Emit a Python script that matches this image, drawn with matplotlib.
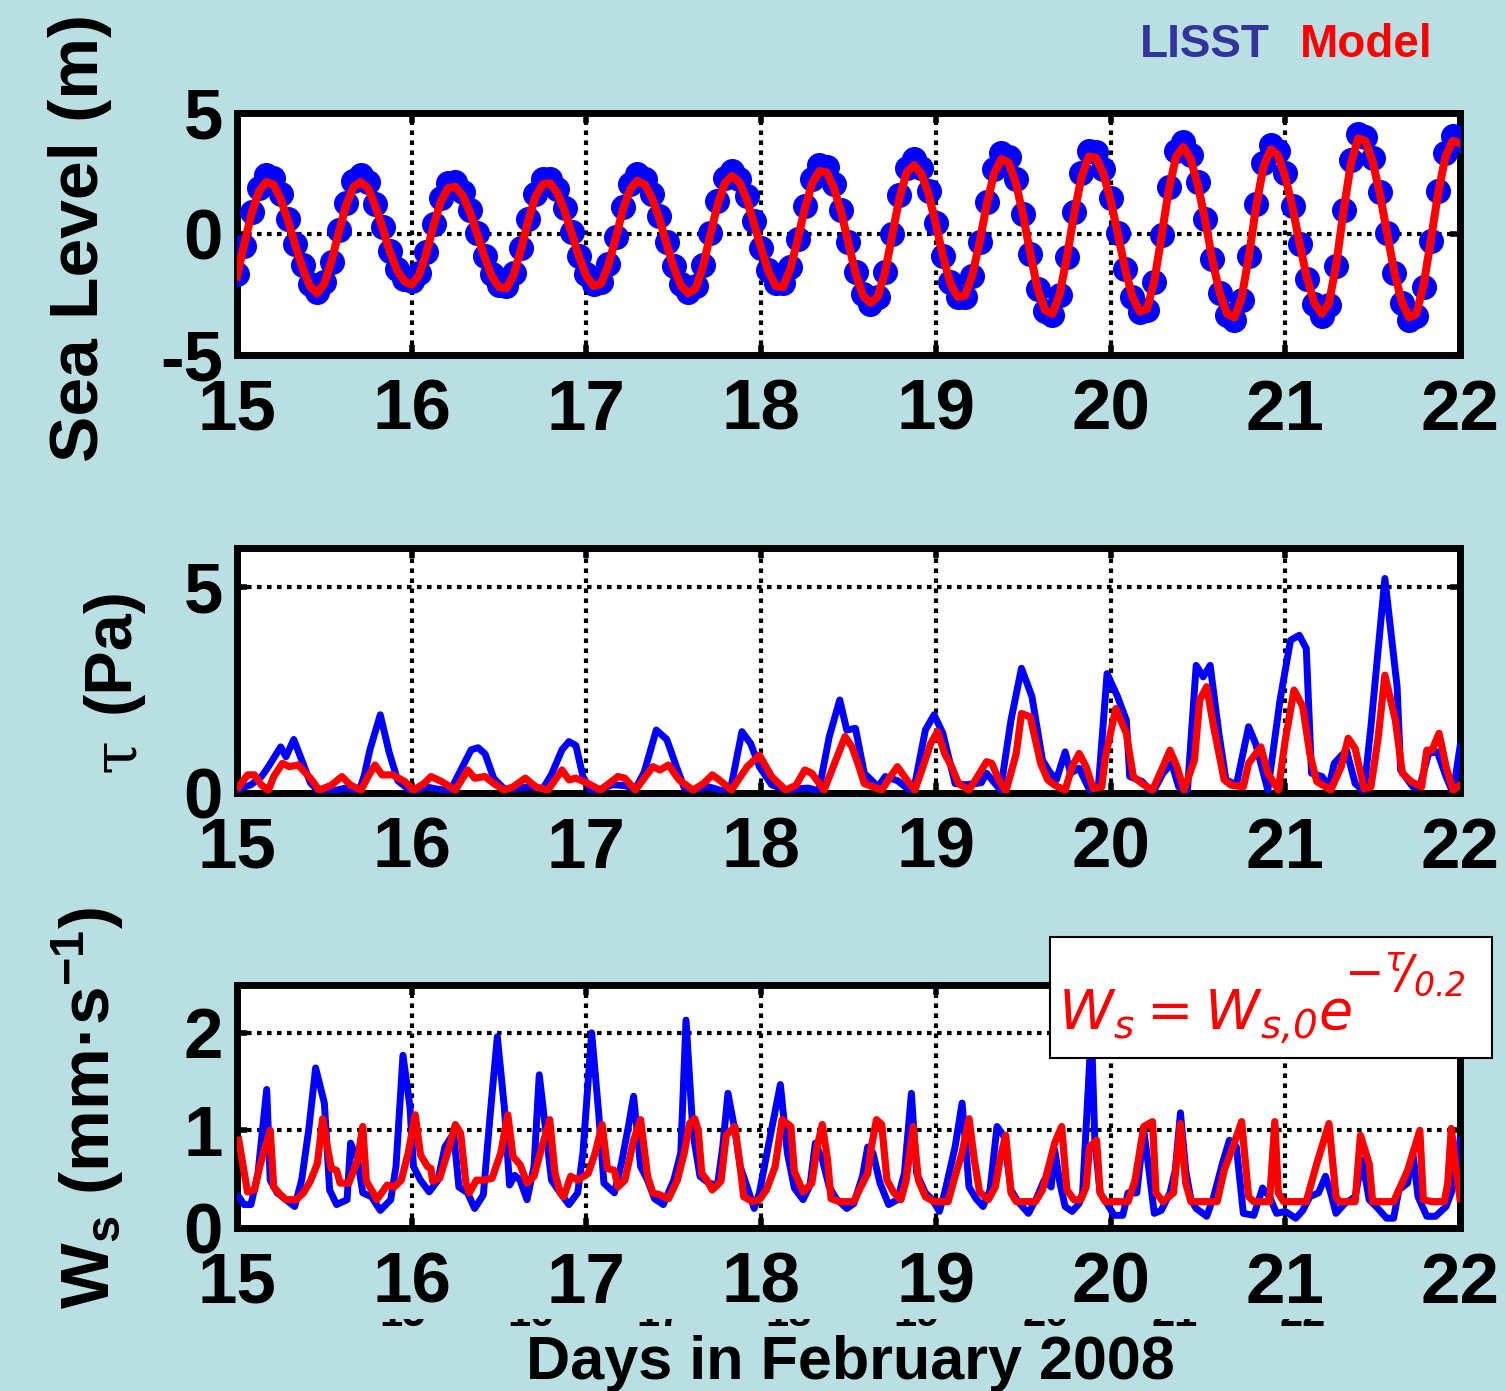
#!/usr/bin/env python3
"""LISST vs model: sea level, bed stress and settling velocity, 15-22 Feb 2008."""

import numpy as np
import matplotlib
matplotlib.use("Agg")
import matplotlib.pyplot as plt
from matplotlib.patches import Rectangle
from matplotlib.transforms import Bbox, TransformedBbox

# ---- sea level (m), hourly from 15 Feb 00:00 ----
sea_obs = [
    -1.65, -0.50, 0.90, 1.90, 2.45, 2.30, 1.65, 0.60, -0.40, -1.30, -2.05, -2.40,
    -2.00, -1.15, 0.15, 1.30, 2.20, 2.45, 2.15, 1.25, 0.30, -0.70, -1.45, -1.85,
    -1.95, -1.63, -0.74, 0.42, 1.47, 2.12, 2.15, 1.73, 0.99, 0.05, -0.90, -1.67,
    -2.12, -2.15, -1.60, -0.58, 0.61, 1.67, 2.27, 2.29, 1.85, 1.06, 0.08, -0.90,
    -1.67, -2.06, -1.98, -1.25, -0.13, 1.11, 2.07, 2.48, 2.29, 1.66, 0.74, -0.34,
    -1.33, -2.06, -2.39, -2.16, -1.28, 0.03, 1.35, 2.30, 2.60, 2.29, 1.55, 0.52,
    -0.56, -1.47, -2.01, -2.04, -1.38, -0.21, 1.15, 2.28, 2.87, 2.76, 2.06, 0.98,
    -0.33, -1.57, -2.49, -2.89, -2.62, -1.55, 0.02, 1.60, 2.73, 3.10, 2.71, 1.77,
    0.47, -0.89, -1.99, -2.61, -2.59, -1.75, -0.31, 1.33, 2.67, 3.36, 3.20, 2.28,
    0.83, -0.82, -2.28, -3.20, -3.35, -2.54, -0.97, 0.90, 2.52, 3.42, 3.38, 2.68,
    1.49, 0.03, -1.43, -2.59, -3.22, -3.14, -1.99, -0.06, 1.95, 3.41, 3.79, 3.28,
    2.14, 0.60, -1.05, -2.45, -3.36, -3.57, -2.71, -0.92, 1.22, 2.93, 3.69, 3.42,
    2.51, 1.17, -0.40, -1.84, -2.90, -3.39, -2.94, -1.31, 0.99, 3.06, 4.13, 4.01,
    3.15, 1.74, 0.04, -1.61, -2.86, -3.54, -3.39, -2.18, -0.30, 1.76, 3.36, 4.04,
    3.90,
]
sea_model = [
    -1.75, -0.40, 0.85, 1.75, 2.15, 2.05, 1.45, 0.55, -0.45, -1.40, -2.15, -2.45,
    -2.05, -1.10, 0.10, 1.20, 1.95, 2.15, 1.90, 1.15, 0.25, -0.75, -1.50, -1.95,
    -2.10, -1.70, -0.80, 0.35, 1.35, 1.90, 1.95, 1.60, 0.90, 0.00, -0.95, -1.75,
    -2.20, -2.25, -1.70, -0.65, 0.55, 1.55, 2.05, 2.10, 1.70, 0.95, 0.00, -0.95,
    -1.75, -2.15, -2.05, -1.30, -0.20, 1.00, 1.85, 2.20, 2.05, 1.50, 0.65, -0.40,
    -1.40, -2.15, -2.45, -2.25, -1.35, -0.05, 1.20, 2.10, 2.40, 2.15, 1.45, 0.45,
    -0.60, -1.55, -2.15, -2.20, -1.45, -0.25, 1.05, 2.10, 2.60, 2.55, 1.90, 0.90,
    -0.40, -1.65, -2.55, -2.85, -2.60, -1.60, -0.05, 1.50, 2.55, 2.85, 2.50, 1.65,
    0.40, -0.95, -2.05, -2.60, -2.55, -1.70, -0.35, 1.25, 2.50, 3.10, 2.95, 2.10,
    0.75, -0.85, -2.30, -3.15, -3.30, -2.50, -0.95, 0.85, 2.35, 3.20, 3.15, 2.50,
    1.40, 0.00, -1.45, -2.60, -3.20, -3.10, -1.95, -0.10, 1.85, 3.20, 3.60, 3.10,
    2.00, 0.55, -1.10, -2.45, -3.30, -3.45, -2.65, -0.90, 1.15, 2.80, 3.50, 3.25,
    2.35, 1.10, -0.45, -1.85, -2.85, -3.30, -2.85, -1.25, 0.95, 2.90, 3.95, 3.85,
    3.00, 1.65, 0.00, -1.60, -2.80, -3.45, -3.30, -2.10, -0.25, 1.70, 3.20, 3.85,
    3.75,
]
sea_days = 15 + np.arange(len(sea_obs)) / 24.0

# ---- bed shear stress tau (Pa) ----
tau_obs_day = [
    15.01, 15.08, 15.14, 15.18, 15.25, 15.28, 15.325, 15.375, 15.42, 15.47, 15.55,
    15.62, 15.70, 15.73, 15.76, 15.82, 15.87, 15.92, 16.0, 16.08, 16.14, 16.22,
    16.28, 16.34, 16.38, 16.42, 16.47, 16.53, 16.6, 16.68, 16.75, 16.8, 16.86,
    16.9, 16.94, 16.98, 17.03, 17.08, 17.15, 17.22, 17.28, 17.33, 17.40, 17.46,
    17.51, 17.56, 17.62, 17.7, 17.78, 17.83, 17.89, 17.94, 17.99, 18.06, 18.14,
    18.2, 18.27, 18.33, 18.39, 18.45, 18.49, 18.54, 18.59, 18.67, 18.71, 18.78,
    18.87, 18.94, 18.99, 19.04, 19.11, 19.17, 19.26, 19.29, 19.37, 19.43, 19.49,
    19.55, 19.61, 19.65, 19.69, 19.74, 19.77, 19.82, 19.88, 19.93, 19.98, 20.04,
    20.09, 20.11, 20.18, 20.24, 20.30, 20.35, 20.39, 20.44, 20.49, 20.53, 20.57,
    20.62, 20.66, 20.72, 20.79, 20.83, 20.9, 20.97, 21.03, 21.08, 21.12, 21.15,
    21.21, 21.25, 21.28, 21.35, 21.40, 21.45, 21.49, 21.57, 21.64, 21.66, 21.73,
    21.77, 21.82, 21.87, 21.92, 21.96, 22.0,
]
tau_obs = [
    0.10, 0.20, 0.40, 0.64, 1.12, 0.88, 1.30, 0.75, 0.25, 0.02, 0.05,
    0.12, 0.05, 0.45, 1.04, 1.90, 1.00, 0.30, 0.03, 0.15, 0.10, 0.05,
    0.55, 1.05, 1.10, 0.95, 0.35, 0.10, 0.12, 0.15, 0.10, 0.45, 1.05,
    1.25, 1.15, 0.40, 0.02, 0.10, 0.20, 0.18, 0.10, 0.50, 1.53, 1.30,
    0.70, 0.12, 0.08, 0.15, 0.05, 0.20, 1.49, 1.20, 0.64, 0.20, 0.07,
    0.10, 0.12, 0.05, 1.37, 2.26, 1.53, 1.57, 0.48, 0.15, 0.40, 0.30,
    0.00, 1.53, 1.90, 1.45, 0.23, 0.20, 0.25, 0.48, 0.07, 1.77, 3.03,
    2.34, 0.80, 0.52, 0.32, 1.00, 0.48, 0.60, 0.07, 0.15, 2.90, 2.34,
    1.77, 0.40, 0.28, 0.00, 0.48, 0.72, 0.15, 0.07, 3.10, 2.82, 3.10,
    1.45, 0.32, 0.20, 1.61, 1.20, 0.07, 2.26, 3.71, 3.83, 3.51, 0.48,
    0.40, 0.15, 0.72, 1.04, 0.23, 0.03, 1.61, 5.21, 2.58, 0.56, 0.15,
    0.15, 0.96, 1.00, 0.40, 0.00, 1.12,
]
tau_model_day = [
    15.01, 15.06, 15.10, 15.14, 15.18, 15.21, 15.26, 15.30, 15.35, 15.42, 15.47,
    15.54, 15.60, 15.65, 15.71, 15.75, 15.79, 15.83, 15.89, 15.96, 16.01, 16.07,
    16.11, 16.17, 16.25, 16.32, 16.36, 16.42, 16.47, 16.53, 16.58, 16.65, 16.71,
    16.78, 16.86, 16.90, 16.94, 17.01, 17.08, 17.18, 17.22, 17.28, 17.38, 17.42,
    17.47, 17.53, 17.61, 17.67, 17.72, 17.76, 17.83, 17.92, 17.99, 18.06, 18.14,
    18.20, 18.25, 18.29, 18.36, 18.42, 18.48, 18.52, 18.56, 18.59, 18.64, 18.69,
    18.74, 18.78, 18.84, 18.88, 18.92, 18.97, 19.01, 19.05, 19.09, 19.13, 19.19,
    19.25, 19.29, 19.32, 19.36, 19.40, 19.46, 19.49, 19.54, 19.60, 19.64, 19.68,
    19.74, 19.78, 19.82, 19.86, 19.90, 19.95, 19.97, 20.03, 20.09, 20.13, 20.18,
    20.24, 20.30, 20.34, 20.38, 20.42, 20.48, 20.51, 20.55, 20.59, 20.65, 20.69,
    20.76, 20.79, 20.86, 20.90, 20.96, 21.00, 21.05, 21.10, 21.14, 21.18, 21.23,
    21.26, 21.32, 21.36, 21.40, 21.45, 21.49, 21.53, 21.57, 21.63, 21.67, 21.72,
    21.78, 21.81, 21.84, 21.88, 21.92, 21.96, 22.0,
]
tau_model = [
    0.15, 0.44, 0.44, 0.19, 0.07, 0.40, 0.72, 0.64, 0.68, 0.36, 0.07,
    0.19, 0.40, 0.19, 0.07, 0.40, 0.68, 0.44, 0.44, 0.28, 0.07, 0.23,
    0.40, 0.28, 0.07, 0.56, 0.36, 0.40, 0.23, 0.07, 0.15, 0.36, 0.15,
    0.07, 0.56, 0.32, 0.36, 0.23, 0.07, 0.40, 0.36, 0.07, 0.64, 0.56,
    0.68, 0.32, 0.07, 0.23, 0.44, 0.32, 0.07, 0.64, 0.92, 0.40, 0.07,
    0.19, 0.56, 0.48, 0.07, 0.72, 1.37, 1.12, 0.64, 0.23, 0.15, 0.07,
    0.40, 0.64, 0.28, 0.07, 0.56, 1.20, 1.49, 0.96, 0.64, 0.23, 0.07,
    0.48, 0.76, 0.72, 0.32, 0.03, 0.96, 1.93, 1.85, 0.72, 0.32, 0.19,
    0.07, 0.64, 0.96, 0.64, 0.11, 0.15, 0.88, 2.05, 1.45, 0.40, 0.23,
    0.07, 0.64, 1.04, 0.64, 0.07, 0.80, 2.26, 2.58, 1.61, 0.32, 0.19,
    0.15, 0.72, 1.12, 0.48, 0.07, 1.29, 2.50, 2.10, 0.96, 0.28, 0.15,
    0.07, 0.64, 1.33, 1.08, 0.11, 0.15, 1.29, 2.86, 1.77, 0.48, 0.28,
    0.15, 1.04, 1.04, 1.45, 0.64, 0.07, 0.19,
]

# ---- settling velocity Ws (mm/s) ----
ws_obs_day = [
    15.01, 15.04, 15.08, 15.12, 15.17, 15.19, 15.23, 15.28, 15.33, 15.37, 15.41,
    15.45, 15.50, 15.53, 15.57, 15.63, 15.65, 15.69, 15.72, 15.77, 15.82, 15.88,
    15.91, 15.95, 15.99, 16.01, 16.05, 16.10, 16.15, 16.19, 16.24, 16.27, 16.32,
    16.36, 16.41, 16.45, 16.49, 16.53, 16.56, 16.59, 16.62, 16.66, 16.70, 16.73,
    16.76, 16.80, 16.85, 16.90, 16.95, 16.98, 17.03, 17.07, 17.10, 17.16, 17.20,
    17.24, 17.27, 17.31, 17.35, 17.39, 17.44, 17.50, 17.54, 17.57, 17.61, 17.65,
    17.70, 17.75, 17.78, 17.81, 17.85, 17.88, 17.92, 17.96, 17.99, 18.04, 18.11,
    18.15, 18.19, 18.24, 18.28, 18.31, 18.35, 18.39, 18.43, 18.49, 18.53, 18.58,
    18.61, 18.64, 18.68, 18.73, 18.78, 18.82, 18.86, 18.89, 18.94, 18.98, 19.02,
    19.05, 19.11, 19.15, 19.19, 19.23, 19.27, 19.31, 19.35, 19.39, 19.43, 19.47,
    19.53, 19.58, 19.62, 19.66, 19.68, 19.71, 19.74, 19.78, 19.82, 19.84, 19.89,
    19.91, 19.94, 19.99, 20.02, 20.07, 20.10, 20.15, 20.19, 20.22, 20.25, 20.29,
    20.34, 20.37, 20.40, 20.43, 20.46, 20.49, 20.55, 20.59, 20.64, 20.68, 20.72,
    20.76, 20.82, 20.87, 20.91, 20.95, 21.0, 21.06, 21.10, 21.14, 21.19, 21.23,
    21.26, 21.29, 21.34, 21.40, 21.44, 21.48, 21.52, 21.58, 21.62, 21.65, 21.70,
    21.73, 21.76, 21.81, 21.86, 21.92, 21.95, 21.98, 22.0,
]
ws_obs = [
    0.32, 0.24, 0.24, 0.56, 1.42, 0.49, 0.36, 0.29, 0.22, 0.49, 1.00,
    1.64, 1.28, 0.39, 0.24, 0.29, 0.87, 0.70, 0.36, 0.32, 0.18, 0.29,
    0.63, 1.77, 1.24, 0.63, 0.49, 0.37, 0.49, 0.83, 0.97, 0.42, 0.36,
    0.20, 0.34, 1.18, 1.96, 1.24, 0.44, 0.54, 0.49, 0.29, 0.63, 1.57,
    1.11, 0.49, 0.36, 0.24, 0.36, 0.77, 2.00, 1.18, 0.46, 0.36, 0.66,
    1.04, 1.35, 0.63, 0.49, 0.30, 0.24, 0.49, 0.77, 2.13, 0.97, 0.53,
    0.46, 0.44, 0.83, 1.38, 1.00, 0.63, 0.42, 0.20, 0.36, 0.83, 1.47,
    0.77, 0.41, 0.29, 0.44, 0.87, 0.70, 0.42, 0.30, 0.20, 0.25, 0.53,
    0.83, 0.77, 0.46, 0.24, 0.29, 0.56, 1.38, 0.56, 0.36, 0.29, 0.17,
    0.36, 0.83, 1.28, 0.42, 0.30, 0.22, 0.39, 1.04, 0.94, 0.39, 0.27,
    0.15, 0.32, 0.49, 0.42, 0.80, 0.46, 0.22, 0.17, 0.25, 0.36, 2.03,
    0.90, 0.36, 0.22, 0.13, 0.13, 0.36, 0.36, 1.00, 0.59, 0.15, 0.18,
    0.36, 0.59, 1.18, 0.59, 0.29, 0.20, 0.12, 0.32, 0.66, 0.90, 0.83,
    0.15, 0.13, 0.41, 0.32, 0.15, 0.17, 0.10, 0.18, 0.32, 0.36, 0.53,
    0.36, 0.15, 0.25, 0.32, 0.70, 0.29, 0.22, 0.10, 0.10, 0.39, 0.46,
    0.77, 0.32, 0.12, 0.12, 0.22, 0.36, 0.66, 0.90,
]
ws_model_day = [
    15.01, 15.04, 15.06, 15.10, 15.13, 15.16, 15.19, 15.21, 15.25, 15.28, 15.34,
    15.38, 15.42, 15.46, 15.49, 15.52, 15.54, 15.57, 15.59, 15.64, 15.69, 15.72,
    15.74, 15.78, 15.80, 15.86, 15.90, 15.94, 15.98, 16.02, 16.05, 16.09, 16.11,
    16.12, 16.16, 16.21, 16.25, 16.28, 16.31, 16.33, 16.37, 16.41, 16.46, 16.51,
    16.55, 16.58, 16.62, 16.66, 16.70, 16.74, 16.79, 16.82, 16.85, 16.87, 16.91,
    16.95, 17.01, 17.05, 17.09, 17.12, 17.16, 17.18, 17.22, 17.27, 17.31, 17.35,
    17.38, 17.42, 17.47, 17.52, 17.56, 17.59, 17.62, 17.64, 17.66, 17.69, 17.72,
    17.77, 17.80, 17.85, 17.88, 17.90, 17.95, 17.99, 18.03, 18.08, 18.12, 18.17,
    18.19, 18.24, 18.29, 18.32, 18.35, 18.38, 18.40, 18.45, 18.53, 18.57, 18.61,
    18.63, 18.66, 18.69, 18.72, 18.76, 18.80, 18.83, 18.87, 18.90, 18.94, 18.99,
    19.07, 19.11, 19.15, 19.19, 19.22, 19.25, 19.30, 19.34, 19.37, 19.40, 19.43,
    19.46, 19.57, 19.61, 19.65, 19.68, 19.72, 19.75, 19.79, 19.83, 19.86, 19.88,
    19.92, 19.94, 19.97, 20.10, 20.14, 20.19, 20.24, 20.26, 20.30, 20.36, 20.40,
    20.43, 20.46, 20.61, 20.65, 20.70, 20.75, 20.79, 20.82, 20.91, 20.94, 20.96,
    20.99, 21.12, 21.18, 21.25, 21.29, 21.31, 21.40, 21.43, 21.48, 21.50, 21.62,
    21.70, 21.77, 21.79, 21.84, 21.91, 21.93, 21.95, 21.98, 22.0,
]
ws_model = [
    0.90, 0.58, 0.37, 0.39, 0.63, 0.82, 1.00, 0.42, 0.34, 0.29, 0.29,
    0.36, 0.48, 0.66, 1.12, 0.80, 0.61, 0.59, 0.46, 0.46, 0.70, 1.04,
    0.48, 0.36, 0.29, 0.44, 0.42, 0.49, 0.77, 1.16, 0.75, 0.63, 0.61,
    0.48, 0.51, 0.80, 1.06, 0.97, 0.46, 0.36, 0.49, 0.49, 0.51, 0.77,
    1.16, 0.73, 0.65, 0.46, 0.53, 0.80, 1.11, 0.56, 0.36, 0.32, 0.53,
    0.49, 0.56, 0.77, 1.06, 0.61, 0.59, 0.42, 0.49, 0.90, 1.11, 0.53,
    0.36, 0.34, 0.30, 0.49, 0.77, 1.07, 1.12, 1.00, 0.56, 0.49, 0.39,
    0.48, 0.95, 1.04, 0.63, 0.32, 0.27, 0.29, 0.39, 0.63, 1.11, 1.04,
    0.58, 0.37, 0.46, 0.83, 1.06, 0.70, 0.30, 0.27, 0.27, 0.42, 0.56,
    0.82, 1.11, 1.06, 0.49, 0.36, 0.29, 0.49, 1.04, 0.49, 0.32, 0.27,
    0.27, 0.53, 0.77, 1.12, 0.70, 0.37, 0.29, 0.42, 0.73, 0.95, 0.36,
    0.27, 0.27, 0.39, 0.66, 0.87, 1.04, 0.39, 0.29, 0.29, 0.42, 0.83,
    0.90, 0.36, 0.27, 0.27, 0.49, 1.04, 1.09, 0.36, 0.27, 0.36, 1.07,
    0.46, 0.27, 0.27, 0.59, 0.83, 1.09, 0.32, 0.27, 0.27, 1.09, 0.36,
    0.27, 0.27, 0.66, 1.07, 0.32, 0.27, 0.27, 0.95, 0.66, 0.27, 0.27,
    0.59, 1.00, 0.29, 0.27, 0.27, 0.46, 1.02, 0.56, 0.30,
]

day_ticks = [15, 16, 17, 18, 19, 20, 21, 22]
ghost_labels = ["15", "16", "17", "18", "19", "20", "21", "22"]

BG = "#badfe2"
BLUE = "#0000ff"
RED = "#ff0000"
W, H = 1506, 1391

plt.rcParams["font.family"] = ["Liberation Sans", "DejaVu Sans"]
plt.rcParams["font.weight"] = "bold"
plt.rcParams["axes.unicode_minus"] = False
plt.rcParams["mathtext.default"] = "regular"

fig = plt.figure(figsize=(W / 100, H / 100), dpi=100, facecolor=BG)


def px_axes(left, top, right, bottom):
    return fig.add_axes([left / W, 1 - bottom / H, (right - left) / W, (bottom - top) / H])


def style(ax, ylim, yticks):
    ax.set_xlim(15, 22)
    ax.set_ylim(*ylim)
    ax.set_xticks(day_ticks)
    ax.set_yticks(yticks)
    ax.set_facecolor("white")
    ax.grid(True, color="black", linestyle=(0, (1.1, 1.3)), linewidth=3.0)
    ax.set_axisbelow(True)
    for s in ax.spines.values():
        s.set_linewidth(5)
    ax.tick_params(direction="in", length=7, width=4, top=True, right=True,
                   labelsize=51)
    ax.tick_params(axis="x", pad=17)
    ax.tick_params(axis="y", pad=10)
    for lab in ax.get_xticklabels() + ax.get_yticklabels():
        lab.set_fontweight("bold")


# sea level
ax1 = px_axes(237, 113, 1460, 355)
ax1.plot(sea_days, sea_obs, "o", color=BLUE, ms=17, mec=BLUE, zorder=3)
ax1.plot(sea_days, sea_model, color=RED, lw=5.8, zorder=4)
style(ax1, (-5, 5), [-5, 0, 5])

# bed stress
ax2 = px_axes(237, 548, 1460, 793)
ax2.plot(tau_obs_day, tau_obs, color=BLUE, lw=5, zorder=3)
ax2.plot(tau_model_day, tau_model, color=RED, lw=5.2, zorder=4)
style(ax2, (0, 5.95), [0, 5])

# settling velocity
ax3 = px_axes(237, 985, 1460, 1228)
ax3.plot(ws_obs_day, ws_obs, color=BLUE, lw=5, zorder=3)
ax3.plot(ws_model_day, ws_model, color=RED, lw=5.2, zorder=4)
style(ax3, (0, 2.49), [0, 1, 2])

# y labels
fig.text(80 / W, 1 - 238 / H, "Sea Level (m)", rotation=90, fontsize=50,
         fontweight="bold", ha="center", va="center")
fig.text(112 / W, 1 - 650 / H, "(Pa)", rotation=90, fontsize=48,
         fontweight="bold", ha="center", va="center")
fig.text(118 / W, 1 - 755 / H, "τ", rotation=90, fontsize=44,
         family="DejaVu Serif", fontweight="normal", ha="center", va="center")
fig.text(88 / W, 1 - 1108 / H, "W$_s$ (mm·s$^{-1}$)", rotation=90, fontsize=50,
         fontweight="bold", ha="center", va="center")

# x label
fig.text(850 / W, 1 - 1363 / H, "Days in February 2008", fontsize=44,
         fontweight="bold", ha="center", va="center")

# legend words
fig.text(1140 / W, 1 - 45 / H, "LISST", color="#333399", fontsize=33,
         fontweight="bold", ha="left", va="center")
fig.text(1300 / W, 1 - 45 / H, "Model", color=RED, fontsize=33,
         fontweight="bold", ha="left", va="center")

# leftover bottoms of a hidden tick row (only a thin slice shows)
clip = TransformedBbox(Bbox([[0, 1 - 1327 / H], [1, 1 - 1319 / H]]), fig.transFigure)
for i, lab in enumerate(ghost_labels):
    t = fig.text((402 + i * 128.7) / W, 1 - 1326 / H, lab, fontsize=30,
                 fontweight="bold", ha="center", va="baseline")
    t.set_clip_box(clip)
    t.set_clip_on(True)

# formula box
fig.add_artist(Rectangle((1050 / W, 1 - 1058 / H), 442 / W, 121 / H,
                         transform=fig.transFigure, facecolor="white",
                         edgecolor="black", lw=1.5, zorder=5))
fig.text(1058 / W, 1 - 1030 / H, r"$W_s = W_{s{,}0}e$",
         color=RED, fontsize=40, family="DejaVu Sans", style="italic",
         fontweight="normal", ha="left", va="baseline", zorder=6)
fig.text(1344 / W, 1 - 988 / H, r"$-{}^{\tau}\!/_{0.2}$",
         color=RED, fontsize=34, family="DejaVu Sans", style="italic",
         fontweight="normal", ha="left", va="baseline", zorder=6)

fig.savefig("out.png", dpi=100, facecolor=BG)
